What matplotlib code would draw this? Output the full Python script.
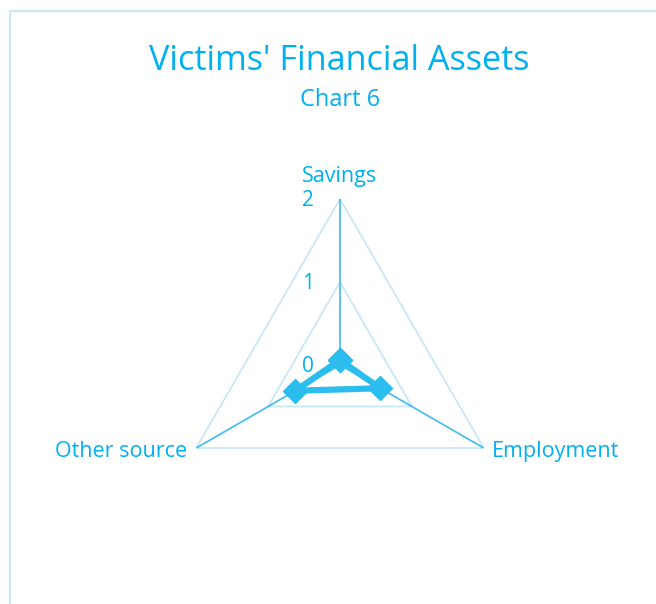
import numpy as np
import matplotlib
matplotlib.use("Agg")
import matplotlib.pyplot as plt
from matplotlib.patches import Rectangle

categories = ["Savings", "Employment", "Other source"]
values = [0.06, 0.56, 0.62]
tick_values = [0, 1, 2]
tick_labels = ["0", "1", "2"]
title = "Victims' Financial Assets"
subtitle = "Chart 6"

TEXT = "#00B0F0"
GRID = "#C5E6F6"
SPOKE = "#4CC0EC"
LINE = "#2CBDEF"
FONT = ["Open Sans", "DejaVu Sans"]

W, H = 656, 604
fig = plt.figure(figsize=(W / 100, H / 100), dpi=100)
fig.patch.set_facecolor("white")

# chart frame
fig.patches.append(Rectangle((10 / W, -0.1), 1.2, 1 - 11 / H + 0.1,
                             transform=fig.transFigure, fill=False,
                             edgecolor="#C9E7F7", linewidth=1.5))

fig.text(339 / W, 1 - 69.5 / H, title, ha="center", va="baseline",
         color=TEXT, fontsize=24.7, family=FONT)
fig.text(340 / W, 1 - 106 / H, subtitle, ha="center", va="baseline",
         color=TEXT, fontsize=17, family=FONT)

cx, cy, R = 340, 365, 166
ax = fig.add_axes([(cx - R) / W, (H - cy - R) / H, 2 * R / W, 2 * R / H],
                  projection="polar")
ax.set_theta_offset(np.pi / 2)
ax.set_theta_direction(-1)
ax.set_ylim(0, max(tick_values))
ax.grid(False)
ax.set_xticks([])
ax.set_yticks([])
ax.spines["polar"].set_visible(False)
ax.patch.set_alpha(0)

n = len(categories)
angles = np.arange(n) * 2 * np.pi / n

for tv in tick_values[1:]:
    ax.plot(np.append(angles, angles[0]), [tv] * (n + 1), color=GRID,
            linewidth=1.2, zorder=1)
for a in angles:
    ax.plot([a, a], [0, max(tick_values)], color=SPOKE, linewidth=1.3, zorder=2)

ax.plot(np.append(angles, angles[0]), values + values[:1], color=LINE,
        linewidth=4.5, marker="D", markersize=12.5, zorder=3,
        solid_joinstyle="miter")

for tv, tl in zip(tick_values, tick_labels):
    ax.annotate(tl, xy=(0, tv), xytext=(-32, -7), textcoords="offset pixels",
                ha="center", va="baseline", color=TEXT, fontsize=15,
                family=FONT, annotation_clip=False)

label_cfg = [((0, 17), "center"),
             ((8, -9), "left"),
             ((-9, -9), "right")]
for a, cat, (off, ha) in zip(angles, categories, label_cfg):
    ax.annotate(cat, xy=(a, max(tick_values)), xytext=off,
                textcoords="offset pixels", ha=ha, va="baseline", color=TEXT,
                fontsize=15.5, family=FONT, annotation_clip=False)

fig.savefig("out.png", dpi=100)
